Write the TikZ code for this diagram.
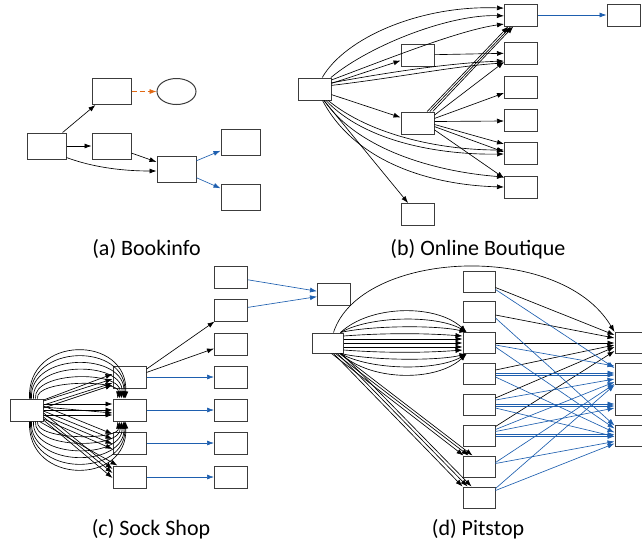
\documentclass[tikz,border=0pt]{standalone}
\usepackage{fontspec}
\setmainfont{Carlito}
\usetikzlibrary{arrows.meta,shapes.geometric,calc}
\definecolor{eblue}{RGB}{30,95,175}
\definecolor{eorange}{RGB}{225,105,20}
\definecolor{bgray}{RGB}{60,60,60}
\begin{document}
\begin{tikzpicture}[x=1pt,y=-1pt,
  box/.style={draw=bgray,line width=1pt,inner sep=0pt,minimum width=33pt,minimum height=22pt},
  boxa/.style={box,minimum width=39pt,minimum height=26pt},
  boxd/.style={box,minimum width=32pt,minimum height=21pt},
  edge/.style={-{Latex[length=7pt,width=5pt]},line width=0.65pt,black},
  bedge/.style={edge,eblue},
  oedge/.style={edge,eorange,dash pattern=on 5pt off 3pt},
  captxt/.style={anchor=base,font=\fontsize{22}{26}\selectfont,inner sep=0pt}]
\useasboundingbox (0,0) rectangle (642,544);
\clip (0,0) rectangle (642,544);
% ---------------- (a) Bookinfo
\node[boxa] (a1) at (46.5,146) {};
\node[boxa] (a2) at (111.5,91.5) {};
\node[draw=bgray,line width=1pt,ellipse,minimum width=39pt,minimum height=26pt,inner sep=0pt] (a3) at (176.5,91.5) {};
\node[boxa] (a4) at (111.5,146) {};
\node[boxa] (a5) at (176.5,169) {};
\node[boxa] (a6) at (240.5,142.5) {};
\node[boxa] (a7) at (240.5,197) {};
\draw[edge] (a1) -- (a2);
\draw[oedge] (a2) -- (a3);
\draw[edge] (a1) -- (a4);
\draw[edge] (a4) -- (a5);
\draw[edge] (a1.-30) .. controls (95,168) and (125,171) .. ($(a5.west)+(0,2)$);
\draw[bedge] (a5) -- (a6);
\draw[bedge] (a5) -- (a7);
\node[captxt] at (146.5,255) {(a) Bookinfo};
% ---------------- (b) Online Boutique
\node[box] (b1) at (314.5,89) {};
\node[box] (b2) at (417.5,55) {};
\node[box] (b3) at (417.5,123) {};
\node[box] (b4) at (417.5,214.5) {};
\node[box] (b5) at (521,15) {};
\node[box] (b6) at (521,53) {};
\node[box] (b7) at (521,87) {};
\node[box] (b8) at (521,120) {};
\node[box] (b9) at (521,153) {};
\node[box] (b10) at (521,187) {};
\node[box] (b11) at (623.5,15) {};
\draw[edge] (b1.56) .. controls (345,38) and (420,5) .. (b5.158);
\draw[edge] (b1.35) .. controls (370,45) and (450,14) .. (b5.183);
\draw[edge] (b1.28) .. controls (390,58) and (460,30) .. (b5.208);
\draw[edge] (b1) -- (b2);
\draw[edge] (b1.20) .. controls (390,72) and (450,63) .. ($(b6.west)+(0,8)$);
\draw[edge] (b1.12) .. controls (395,78) and (455,66) .. ($(b6.west)+(0,10)$);
\draw[edge] (b1) -- (b3);
\draw[edge] (b1.-40) .. controls (370,135) and (440,150) .. ($(b9.west)+(0,-3)$);
\draw[edge] (b1.-45) .. controls (365,142) and (440,155) .. ($(b9.west)+(0,1)$);
\draw[edge] (b1.-50) .. controls (360,152) and (440,172) .. ($(b10.west)+(0,-10)$);
\draw[edge] (b1.-55) .. controls (355,162) and (430,185) .. ($(b10.west)+(0,0)$);
\draw[edge] (b1) -- (b4);
\draw[edge] (b3.50) -- (b5.222);
\draw[edge] (b3.43) -- (b5.229);
\draw[edge] (b3.37) -- (b5.236);
\draw[edge] (b3.25) -- ($(b6.west)+(0,9)$);
\draw[edge] (b3.15) -- ($(b7.west)+(0,6)$);
\draw[edge] (b3.5) -- ($(b8.west)+(0,1)$);
\draw[edge] (b3.-5) -- ($(b9.west)+(0,-9)$);
\draw[edge] (b3.-12) -- ($(b9.west)+(0,-1)$);
\draw[edge] (b3.-22) -- ($(b10.west)+(0,-9)$);
\draw[edge] (b2) -- (b6);
\draw[bedge] (b5) -- (b11);
\node[captxt] at (478,255) {(b) Online Boutique};
% ---------------- (c) Sock Shop
\node[box] (c0) at (26.5,410) {};
\node[box] (c1) at (129.5,377) {};
\node[box] (c2) at (129.5,410) {};
\node[box] (c3) at (129.5,443) {};
\node[box] (c4) at (129.5,477) {};
\node[box] (c5) at (231,277) {};
\node[box] (c6) at (231,310) {};
\node[box] (c7) at (231,344) {};
\node[box] (c8) at (231,377) {};
\node[box] (c9) at (231,410) {};
\node[box] (c10) at (231,443) {};
\node[box] (c11) at (231,477) {};
\node[box] (c12) at (334,294) {};
\draw[bedge] (c5) -- (c12);
\draw[bedge] (c6) -- (c12);
\draw[edge] (c1.25) -- (c6.215);
\draw[edge] (c1.15) -- (c7.195);
\draw[bedge] (c1) -- (c8);
\draw[bedge] (c2) -- (c9);
\draw[bedge] (c3) -- (c10);
\draw[bedge] (c4) -- (c11);
\foreach \k/\s/\e in {64/20/13, 56/21/12, 47/22/11, 38/24/9, 28/26/7, 19/28/5}{
  \draw[edge] ($(c0.north west)+(\s,0)$) .. controls ($(c0.north west)+(\s-3,-\k)$) and ($(c2.north west)+(\e+3,-\k)$) .. ($(c2.north west)+(\e,0)$);
  \draw[edge] ($(c0.south west)+(\s,0)$) .. controls ($(c0.south west)+(\s-3,\k)$) and ($(c2.south west)+(\e+3,\k)$) .. ($(c2.south west)+(\e,0)$);
}
\foreach \a/\b in {-9/2,-5/6,-2/8,-10/-3}{
  \draw[edge] ($(c0.east)+(0,\a)$) -- ($(c1.west)+(0,\b)$);}
\foreach \a/\b in {-6/-6,0/0,5/5,-3/3}{
  \draw[edge] ($(c0.east)+(0,\a)$) -- ($(c2.west)+(0,\b)$);}
\foreach \a/\b in {-4/-9,1/-4,5/1,9/6}{
  \draw[edge] ($(c0.east)+(0,\a)$) -- ($(c3.west)+(0,\b)$);}
\foreach \a/\b in {3/-8,7/-4,10/1}{
  \draw[edge] ($(c0.east)+(0,\a)$) -- ($(c4.west)+(0,\b)$);}
\draw[edge] ($(c0.south east)+(-4,0)$) -- ($(c4.north west)+(5,0)$);
\node[captxt] at (151,535) {(c) Sock Shop};
% ---------------- (d) Pitstop
\node[boxd,minimum width=31pt,minimum height=20pt] (d0) at (327.5,343) {};
\node[boxd] (d1) at (479,281.5) {};
\node[boxd] (d2) at (479,312) {};
\node[boxd] (d3) at (479,343) {};
\node[boxd] (d4) at (479,374) {};
\node[boxd] (d5) at (479,405) {};
\node[boxd] (d6) at (479,435.5) {};
\node[boxd] (d7) at (479,466.5) {};
\node[boxd] (d8) at (479,497.5) {};
\node[boxd] (d9) at (631,343) {};
\node[boxd] (d10) at (631,374) {};
\node[boxd] (d11) at (631,405) {};
\node[boxd] (d12) at (631,435.5) {};
\draw[edge] ($(d0.north)+(6,0)$) .. controls (360,250) and (560,240) .. (d9.north west);
\foreach \k in {28,17,7}{
  \draw[edge] ($(d0.north east)+(-3,0)$) .. controls ($(d0.north east)+(27,-\k)$) and ($(d3.north west)+(-26,-\k)$) .. ($(d3.north west)+(4,0)$);
  \draw[edge] ($(d0.south east)+(-3,0)$) .. controls ($(d0.south east)+(27,\k)$) and ($(d3.south west)+(-26,\k)$) .. ($(d3.south west)+(4,0)$);
}
\draw[edge] ($(d0.east)+(0,-7)$) .. controls ($(d0.east)+(40,-10)$) and ($(d3.west)+(-40,-10)$) .. ($(d3.west)+(0,-7)$);
\draw[edge] ($(d0.east)+(0,7)$) .. controls ($(d0.east)+(40,10)$) and ($(d3.west)+(-40,10)$) .. ($(d3.west)+(0,7)$);
\foreach \a in {-4,0,4}{
  \draw[edge] ($(d0.east)+(0,\a)$) -- ($(d3.west)+(0,\a)$);}
\foreach \s/\e in {-12/1,-8/6,-4/10}{
  \draw[edge] ($(d0.south east)+(\s,0)$) -- ($(d7.north west)+(\e,0)$);}
\foreach \s/\e in {-10/0,-6/5,-2/9}{
  \draw[edge] ($(d0.south east)+(\s,0)$) -- ($(d8.north west)+(\e,0)$);}
% black to R1
\draw[edge] ($(d1.east)+(0,6)$) -- ($(d9.west)+(0,-8)$);
\draw[edge] ($(d2.east)+(0,3)$) -- ($(d9.west)+(0,-5)$);
\draw[edge] (d3.east) -- (d9.west);
\draw[edge] ($(d4.east)+(0,-4)$) -- ($(d9.west)+(0,2)$);
\draw[edge] ($(d5.east)+(0,-7)$) -- ($(d9.west)+(0,4)$);
\draw[edge] ($(d6.east)+(0,-9)$) -- ($(d9.west)+(0,8)$);
% blue
\draw[bedge] ($(d1.east)+(0,8)$) -- ($(d10.west)+(0,-6)$);
\draw[bedge] ($(d2.east)+(0,6)$) -- ($(d12.west)+(0,-10)$);
\draw[bedge] ($(d3.east)+(0,2)$) -- ($(d10.west)+(0,-8)$);
\draw[bedge] ($(d3.east)+(0,4)$) -- ($(d12.west)+(0,-7)$);
\draw[bedge] ($(d4.east)+(0,-1)$) -- ($(d10.west)+(0,-1)$);
\draw[bedge] ($(d4.east)+(0,1)$) -- ($(d10.west)+(0,1)$);
\draw[bedge] ($(d4.east)+(0,3)$) -- ($(d12.west)+(0,-3)$);
\draw[bedge] ($(d5.east)+(0,-5)$) -- ($(d10.west)+(0,5)$);
\draw[bedge] ($(d5.east)+(0,-1)$) -- ($(d11.west)+(0,-1)$);
\draw[bedge] ($(d5.east)+(0,1)$) -- ($(d11.west)+(0,1)$);
\draw[bedge] ($(d5.east)+(0,3)$) -- ($(d12.west)+(0,1)$);
\draw[bedge] ($(d6.east)+(0,-6)$) -- ($(d10.west)+(0,8)$);
\draw[bedge] ($(d6.east)+(0,-4)$) -- ($(d11.west)+(0,3)$);
\draw[bedge] ($(d6.east)+(0,-1)$) -- ($(d12.west)+(0,-1)$);
\draw[bedge] ($(d6.east)+(0,1)$) -- ($(d12.west)+(0,1)$);
\draw[bedge] ($(d7.east)+(0,-4)$) -- ($(d10.south west)+(0,-1)$);
\draw[bedge] ($(d7.east)+(0,-3)$) -- ($(d12.west)+(0,6)$);
\draw[bedge] ($(d8.east)+(0,-9)$) -- (d10.south west);
\draw[bedge] ($(d8.east)+(0,-7)$) -- ($(d12.west)+(0,8)$);
\node[captxt] at (478,535) {(d) Pitstop};
\end{tikzpicture}
\end{document}
